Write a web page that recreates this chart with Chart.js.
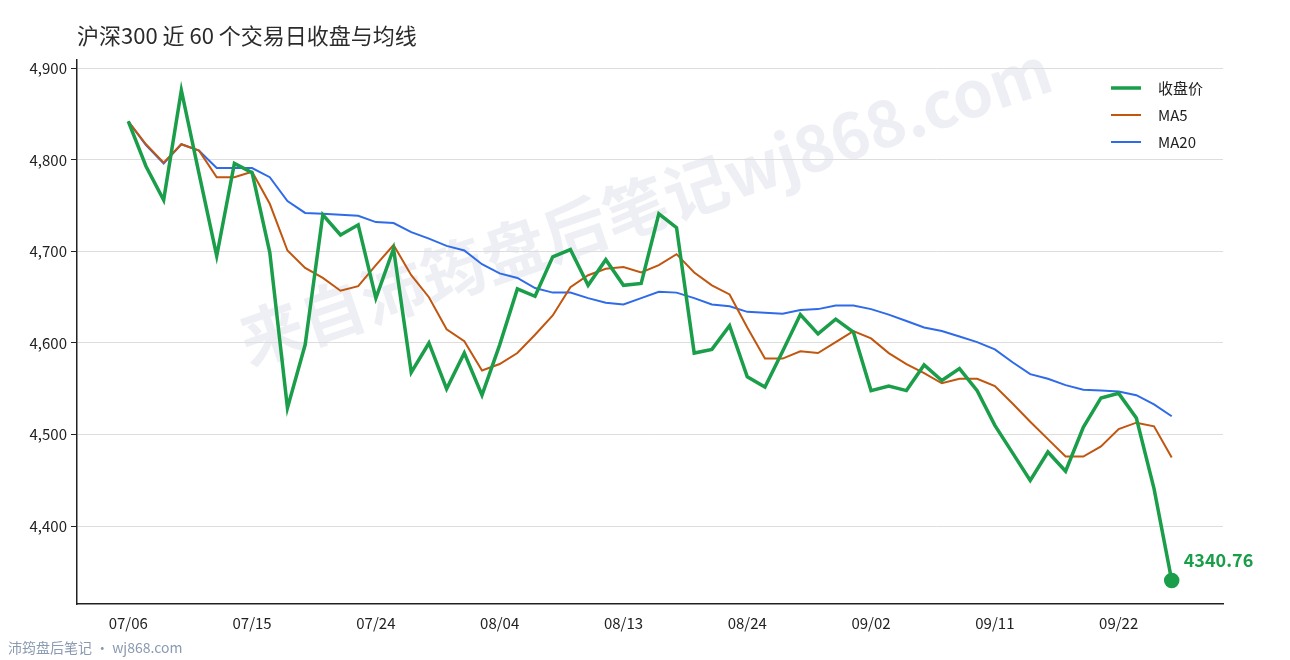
<!DOCTYPE html>
<html><head><meta charset="utf-8">
<script src="https://cdn.jsdelivr.net/npm/chart.js@4"></script>
<style>html,body{margin:0;padding:0;background:#fff}#wrap{width:1290px;height:660px}</style>
</head><body><div id="wrap"><canvas id="c"></canvas></div>
<script>
const dates = ['07/06','07/07','07/08','07/09','07/10','07/13','07/14','07/15','07/16','07/17',
  '07/20','07/21','07/22','07/23','07/24','07/27','07/28','07/29','07/30','07/31',
  '08/03','08/04','08/05','08/06','08/07','08/10','08/11','08/12','08/13','08/14',
  '08/17','08/18','08/19','08/20','08/21','08/24','08/25','08/26','08/27','08/28',
  '08/31','09/01','09/02','09/03','09/04','09/07','09/08','09/09','09/10','09/11',
  '09/14','09/15','09/16','09/17','09/18','09/21','09/22','09/23','09/24','09/25'];
const closes = [4842,4793,4756,4876,4785,4695,4796,4786,4699,4529,
  4598,4740,4718,4729,4649,4703,4568,4600,4550,4589,
  4543,4598,4659,4651,4694,4702,4663,4691,4663,4665,
  4741,4726,4589,4593,4619,4563,4552,4591,4631,4610,
  4626,4612,4548,4553,4548,4576,4559,4572,4548,4510,
  4480,4450,4481,4460,4508,4540,4545,4518,4441,4340.76];
const ma5 = [4842,4817,4797,4817,4810,4781,4781,4787,4752,4701,
  4682,4671,4657,4662,4685,4707,4674,4650,4615,4602,
  4570,4577,4589,4609,4630,4661,4674,4681,4683,4677,
  4685,4697,4677,4663,4653,4617,4583,4583,4591,4589,
  4601,4613,4605,4589,4577,4567,4556,4561,4561,4553,
  4534,4514,4495,4476,4476,4487,4506,4513,4509,4475];
const ma20 = [4842,4816,4796,4817,4810,4791,4791,4791,4781,4755,
  4742,4741,4740,4739,4732,4731,4721,4714,4706,4701,
  4686,4676,4671,4660,4655,4655,4649,4644,4642,4649,
  4656,4655,4649,4642,4640,4634,4633,4632,4636,4637,
  4641,4641,4637,4631,4624,4617,4613,4607,4601,4593,
  4579,4566,4561,4554,4549,4548,4547,4543,4533,4520];
const seriesNames = ['收盘价','MA5','MA20'];
const colors = ['#1a9e4a','#c0560f','#2f6be8'];
const lastIdx = closes.length - 1;

const pts = arr => arr.map((v, i) => ({x: i, y: v}));
const font = '"Noto Sans CJK SC","Noto Sans",sans-serif';

const extras = {
  id: 'extras',
  beforeDraw(chart) {
    const ctx = chart.ctx;
    ctx.save();
    ctx.translate(645, 205);
    ctx.rotate(-0.33);
    ctx.font = 'bold 64px ' + font;
    ctx.fillStyle = 'rgba(195,198,215,0.28)';
    ctx.textAlign = 'center';
    ctx.textBaseline = 'middle';
    ctx.fillText('来自沛筠盘后笔记wj868.com', 0, 0);
    ctx.restore();
  },
  afterDraw(chart) {
    const ctx = chart.ctx;
    ctx.save();
    ctx.font = '22px ' + font;
    ctx.fillStyle = '#2b2b2b';
    ctx.textBaseline = 'middle';
    ctx.fillText('沪深300 近 60 个交易日收盘与均线', 77, 36);
    ctx.font = '14px ' + font;
    ctx.fillStyle = '#8a9ab0';
    ctx.fillText('沛筠盘后笔记 · wj868.com', 8, 648);
    // legend
    ctx.font = '15px ' + font;
    seriesNames.forEach((n, k) => {
      const y = 88 + k * 27;
      ctx.strokeStyle = colors[k];
      ctx.lineWidth = k === 0 ? 3.5 : 2;
      ctx.beginPath(); ctx.moveTo(1111, y); ctx.lineTo(1141, y); ctx.stroke();
      ctx.fillStyle = '#222';
      ctx.fillText(n, 1158, y);
    });
    // last value label
    const meta = chart.getDatasetMeta(0).data[lastIdx];
    ctx.font = 'bold 18px ' + font;
    ctx.fillStyle = colors[0];
    ctx.fillText(closes[lastIdx].toFixed(2), meta.x + 12, meta.y - 20);
    ctx.restore();
  }
};

new Chart(document.getElementById('c'), {
  type: 'line',
  data: {
    datasets: [
      {label: seriesNames[0], data: pts(closes), borderColor: colors[0], backgroundColor: colors[0], borderWidth: 3.5,
       pointRadius: ctx => ctx.dataIndex === lastIdx ? 6 : 0, tension: 0, order: 0},
      {label: seriesNames[1], data: pts(ma5), borderColor: colors[1], borderWidth: 2, pointRadius: 0, tension: 0, order: 1},
      {label: seriesNames[2], data: pts(ma20), borderColor: colors[2], borderWidth: 2, pointRadius: 0, tension: 0, order: 2}
    ]
  },
  options: {
    responsive: true, maintainAspectRatio: false, animation: false,
    layout: {padding: {left: 0, top: 60, right: 67, bottom: 0}},
    plugins: {legend: {display: false}, tooltip: {enabled: false}},
    scales: {
      x: {
        type: 'linear', min: -2.9, max: 61.9,
        afterBuildTicks: s => { s.ticks = [0,7,14,21,28,35,42,49,56].map(v => ({value: v})); },
        afterFit: s => { s.height = 56; },
        grid: {display: false, drawOnChartArea: false, drawTicks: true, tickLength: 6, color: '#222'},
        border: {color: '#222', width: 1.5},
        ticks: {callback: v => dates[v] || '', font: {size: 15, family: font}, color: '#222', maxRotation: 0, padding: 4}
      },
      y: {
        min: 4315, max: 4909,
        afterBuildTicks: s => { s.ticks = [4400,4500,4600,4700,4800,4900].map(v => ({value: v})); },
        afterFit: s => { s.width = 77; },
        grid: {color: '#dddddd', borderDash: [4, 3], drawTicks: true, tickLength: 6, tickColor: '#222'},
        border: {color: '#222', width: 1.5},
        ticks: {font: {size: 15, family: font}, color: '#222', padding: 4}
      }
    }
  },
  plugins: [extras]
});
</script></body></html>
